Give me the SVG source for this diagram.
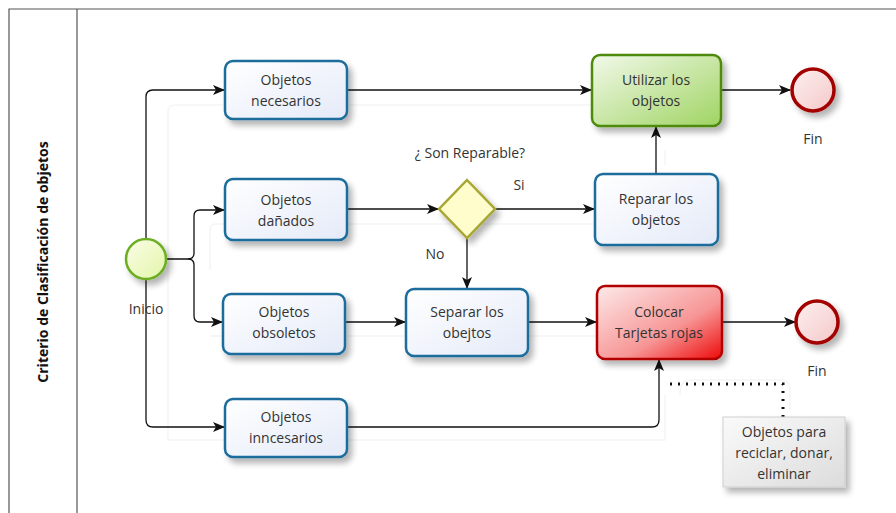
<svg xmlns="http://www.w3.org/2000/svg" width="896" height="513" viewBox="0 0 896 513">
<style>
text{font-family:"Open Sans","Noto Sans","Liberation Sans",sans-serif;font-size:14px;fill:#333;text-anchor:middle}
.task{stroke:#1b6c9c;stroke-width:2.5;fill:url(#gBlue);filter:url(#sh)}
.conn{fill:none;stroke:#111;stroke-width:1.3;marker-end:url(#arr)}
.ghost{fill:none;stroke:#f5f5f5;stroke-width:1.5}
</style>
<defs>
<linearGradient id="gBlue" x1="0" y1="0" x2="1" y2="1"><stop offset="0" stop-color="#ffffff"/><stop offset="1" stop-color="#e4eaf8"/></linearGradient>
<linearGradient id="gGreen" x1="0" y1="0" x2="1" y2="1"><stop offset="0" stop-color="#f2f9ea"/><stop offset="1" stop-color="#9fd462"/></linearGradient>
<linearGradient id="gRed" x1="0" y1="0" x2="1" y2="1"><stop offset="0" stop-color="#fdeaea"/><stop offset="0.6" stop-color="#f79595"/><stop offset="1" stop-color="#ee0a0a"/></linearGradient>
<linearGradient id="gStart" x1="0" y1="0" x2="1" y2="1"><stop offset="0" stop-color="#fbfde8"/><stop offset="1" stop-color="#e2f5a8"/></linearGradient>
<linearGradient id="gEnd" x1="0" y1="0" x2="1" y2="1"><stop offset="0" stop-color="#fdf0f0"/><stop offset="1" stop-color="#f4c8c8"/></linearGradient>
<linearGradient id="gNote" x1="0" y1="0" x2="1" y2="1"><stop offset="0" stop-color="#fafafa"/><stop offset="1" stop-color="#dcdcdc"/></linearGradient>
<filter id="sh" x="-20%" y="-20%" width="150%" height="160%"><feGaussianBlur in="SourceAlpha" stdDeviation="3"/><feOffset dx="4" dy="5"/><feComponentTransfer><feFuncA type="linear" slope="0.3"/></feComponentTransfer><feMerge><feMergeNode/><feMergeNode in="SourceGraphic"/></feMerge></filter>
<marker id="arr" viewBox="0 0 12 10" refX="11" refY="5" markerWidth="12" markerHeight="10" markerUnits="userSpaceOnUse" orient="auto"><path d="M0,0 L12,5 L0,10 L3,5 Z" fill="#111"/></marker>
</defs>
<rect width="896" height="513" fill="#fff"/>
<g id="pool">
<path d="M9,513 V9 H896" fill="none" stroke="#555" stroke-width="1.2"/>
<line x1="77" y1="9" x2="77" y2="513" stroke="#555" stroke-width="1.2"/>
<text x="0" y="0" transform="translate(48,262) rotate(-90)" style="font-weight:bold;font-size:14px;fill:#111">Criterio de Clasificación de objetos</text>
</g>
<g id="ghosts">
<path class="ghost" d="M168,440 V112 Q168,105 175,105 H600"/>
<path class="ghost" d="M168,440 H665 V395"/>
<path class="ghost" d="M210,336 H600"/>
<path class="ghost" d="M210,270 V230 Q210,224 216,224 H600"/>
<path class="ghost" d="M665,165 V150"/>
<path class="ghost" d="M680,395 Q680,380 690,380 H780 Q790,380 790,390 V410"/>
</g>
<g id="connectors">
<path class="conn" d="M146,238 V97 Q146,90 153,90 H224"/>
<path class="conn" d="M146,280 V420 Q146,427 153,427 H224"/>
<path class="conn" d="M167,259 H188 Q194,259 194,253 V216 Q194,210 200,210 H224"/>
<path class="conn" d="M188,259 Q194,259 194,265 V316 Q194,322 200,322 H222"/>
<path class="conn" d="M347,90 H591"/>
<path class="conn" d="M347,209 H438"/>
<path class="conn" d="M495,209 H594"/>
<path class="conn" d="M467,238 V288"/>
<path class="conn" d="M345,322 H405"/>
<path class="conn" d="M528,322 H596"/>
<path class="conn" d="M656,174 V127"/>
<path class="conn" d="M721,90 H790"/>
<path class="conn" d="M722,322 H795"/>
<path class="conn" d="M347,427 H652 Q659,427 659,420 V360"/>
<path d="M783,417 V384 H668" fill="none" stroke="#111" stroke-width="3" stroke-dasharray="2,6"/>
</g>
<g id="inicio">
<circle cx="146" cy="259" r="20" fill="url(#gStart)" stroke="#6cae24" stroke-width="2.5" filter="url(#sh)"/>
<text x="146" y="314">Inicio</text>
</g>
<g id="n-necesarios"><rect class="task" x="225" y="61" width="122" height="58" rx="8"/><text x="286" y="85">Objetos</text><text x="286" y="106">necesarios</text></g>
<g id="n-danados"><rect class="task" x="225" y="179" width="122" height="61" rx="8"/><text x="286" y="205">Objetos</text><text x="286" y="226">dañados</text></g>
<g id="n-obsoletos"><rect class="task" x="223" y="294" width="122" height="60" rx="8"/><text x="284" y="317">Objetos</text><text x="284" y="338">obsoletos</text></g>
<g id="n-inncesarios"><rect class="task" x="225" y="399" width="122" height="58" rx="8"/><text x="286" y="422">Objetos</text><text x="286" y="443">inncesarios</text></g>
<g id="n-utilizar"><rect x="592" y="55" width="129" height="71" rx="8" fill="url(#gGreen)" stroke="#4e8a10" stroke-width="2.5" filter="url(#sh)"/><text x="656" y="85">Utilizar los</text><text x="656" y="106">objetos</text></g>
<g id="n-reparar"><rect class="task" x="595" y="174" width="123" height="71" rx="8"/><text x="656" y="204">Reparar los</text><text x="656" y="225">objetos</text></g>
<g id="n-separar"><rect class="task" x="406" y="289" width="122" height="67" rx="8"/><text x="467" y="317">Separar los</text><text x="467" y="338">obejtos</text></g>
<g id="n-colocar"><rect x="597" y="286" width="125" height="73" rx="8" fill="url(#gRed)" stroke="#b20000" stroke-width="2.5" filter="url(#sh)"/><text x="659" y="317">Colocar</text><text x="659" y="338">Tarjetas rojas</text></g>
<g id="gateway">
<path d="M467,180 L495,209 L467,238 L439,209 Z" fill="#fffdcc" stroke="#a8a630" stroke-width="2.5" filter="url(#sh)"/>
<text x="470" y="158">¿ Son Reparable?</text>
<text x="519" y="190">Si</text>
<text x="435" y="259">No</text>
</g>
<g id="fin1"><circle cx="813" cy="90" r="21" fill="url(#gEnd)" stroke="#a30000" stroke-width="3.5" filter="url(#sh)"/><text x="813" y="144">Fin</text></g>
<g id="fin2"><circle cx="817" cy="322" r="21" fill="url(#gEnd)" stroke="#a30000" stroke-width="3.5" filter="url(#sh)"/><text x="817" y="376">Fin</text></g>
<g id="note">
<rect x="723" y="417" width="122" height="70" fill="url(#gNote)" stroke="#cfcfcf" stroke-width="1" filter="url(#sh)"/>
<text x="784" y="437">Objetos para</text><text x="784" y="458">reciclar, donar,</text><text x="784" y="479">eliminar</text>
</g>
</svg>
